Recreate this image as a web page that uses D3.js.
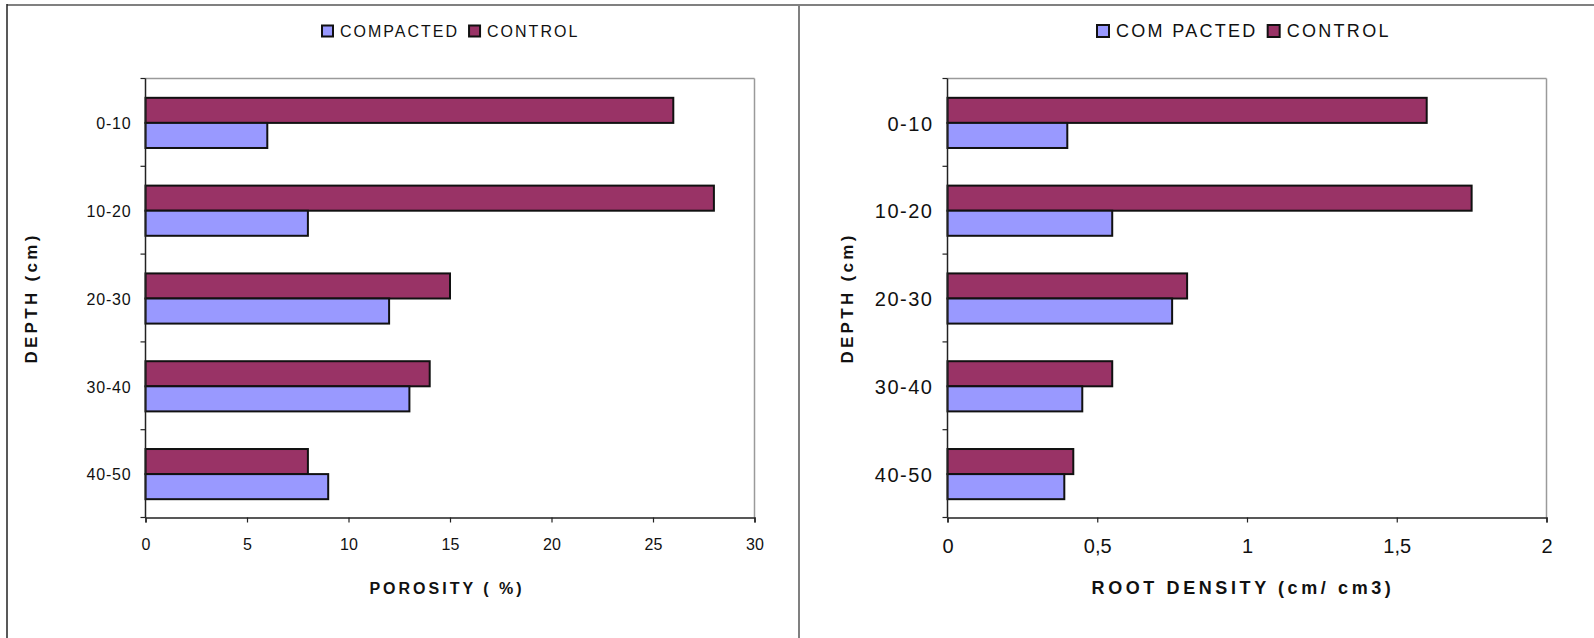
<!DOCTYPE html>
<html>
<head>
<meta charset="utf-8">
<script src="https://cdn.jsdelivr.net/npm/d3@7"></script>
<style>
  html, body { margin: 0; padding: 0; background: #fff; }
  svg { display: block; }
  text { font-family: Arial, "Liberation Sans", sans-serif; fill: #111; }
</style>
</head>
<body>
<svg id="chart" width="1594" height="638"></svg>
<script>
// Depth classes (cm), top to bottom
const depths = ["0-10", "10-20", "20-30", "30-40", "40-50"];
const seriesNames = ["COMPACTED", "CONTROL"];

// Porosity (%)
const porosityCompacted = [6, 8, 12, 13, 9];
const porosityControl   = [26, 28, 15, 14, 8];

// Root density (cm/cm3)
const rootCompacted = [0.4, 0.55, 0.75, 0.45, 0.39];
const rootControl   = [1.6, 1.75, 0.8, 0.55, 0.42];

const porosityTicks = [0, 5, 10, 15, 20, 25, 30];
const rootTicks = [0, 0.5, 1, 1.5, 2];

const colors = { COMPACTED: "#9999ff", CONTROL: "#993366" };

const svg = d3.select("#chart");

// Outer frame
svg.append("line").attr("x1", 7).attr("x2", 1594).attr("y1", 5).attr("y2", 5)
  .attr("stroke", "#808080").attr("stroke-width", 2);
svg.append("line").attr("x1", 7).attr("x2", 7).attr("y1", 4).attr("y2", 638)
  .attr("stroke", "#222").attr("stroke-width", 1.5);
svg.append("line").attr("x1", 799).attr("x2", 799).attr("y1", 5).attr("y2", 638)
  .attr("stroke", "#808080").attr("stroke-width", 2);

function panel(cfg) {
  const g = svg.append("g");
  const x = d3.scaleLinear().domain(cfg.domain).range([cfg.left, cfg.right]);
  // one band per depth class; ticks sit on the band boundaries
  const y = d3.scaleBand().domain(depths).range([cfg.top, cfg.bottom]).padding(0);
  const step = y.step();
  // the two bars of a class fill the middle of its band (gap width 150%)
  const barH = step / 3.5;
  const offset = step * 0.22;
  const sub = d3.scaleBand().domain(["CONTROL", "COMPACTED"]).range([offset, offset + 2 * barH]);

  // plot area frame (top & right in light gray)
  g.append("line").attr("x1", cfg.left).attr("x2", cfg.right).attr("y1", cfg.top).attr("y2", cfg.top)
    .attr("stroke", "#9a9a9a").attr("stroke-width", 1.5);
  g.append("line").attr("x1", cfg.right).attr("x2", cfg.right).attr("y1", cfg.top).attr("y2", cfg.bottom)
    .attr("stroke", "#9a9a9a").attr("stroke-width", 1.5);

  // bars
  const rows = depths.map((d, i) => ({ depth: d, COMPACTED: cfg.compacted[i], CONTROL: cfg.control[i] }));
  rows.forEach(r => {
    ["CONTROL", "COMPACTED"].forEach(s => {
      g.append("rect")
        .attr("x", x(0))
        .attr("y", y(r.depth) + sub(s))
        .attr("width", x(r[s]) - x(0))
        .attr("height", sub.bandwidth())
        .attr("fill", colors[s])
        .attr("stroke", "#111")
        .attr("stroke-width", 2);
    });
  });

  // y axis
  g.append("line").attr("x1", cfg.left).attr("x2", cfg.left).attr("y1", cfg.top).attr("y2", cfg.bottom)
    .attr("stroke", "#222").attr("stroke-width", 1.5);
  d3.range(depths.length + 1).forEach(i => {
    g.append("line").attr("x1", cfg.left - 5).attr("x2", cfg.left)
      .attr("y1", cfg.top + i * step).attr("y2", cfg.top + i * step)
      .attr("stroke", "#222").attr("stroke-width", 1.2);
  });
  depths.forEach(d => {
    g.append("text")
      .attr("x", cfg.left - 14)
      .attr("y", y(d) + step / 2 + 1)
      .attr("dy", "0.36em")
      .attr("text-anchor", "end")
      .style("font-size", cfg.catFont + "px")
      .style("letter-spacing", cfg.catSpacing + "px")
      .text(d);
  });

  // x axis
  const xAxis = d3.axisBottom(x).tickValues(cfg.ticks).tickSize(5)
    .tickFormat(v => String(v).replace(".", ","));
  const ax = g.append("g").attr("transform", `translate(0,${cfg.bottom})`).call(xAxis);
  ax.attr("font-size", null).attr("font-family", null);
  ax.select(".domain").attr("stroke", "#222").attr("stroke-width", 1.5);
  ax.selectAll(".tick line").attr("stroke", "#222").attr("stroke-width", 1.2);
  ax.selectAll(".tick text")
    .attr("y", 21)
    .style("font-size", cfg.tickFont + "px")
    .attr("fill", "#111");

  // axis titles
  g.append("text")
    .attr("x", cfg.xTitleX).attr("y", 588)
    .attr("dy", "0.36em")
    .attr("text-anchor", "middle")
    .style("font-size", cfg.titleFont + "px")
    .style("font-weight", "bold")
    .style("letter-spacing", cfg.titleSpacing + "px")
    .text(cfg.xTitle);
  g.append("text")
    .attr("transform", `translate(${cfg.yTitleX},298) rotate(-90)`)
    .attr("dy", "0.36em")
    .attr("text-anchor", "middle")
    .style("font-size", "17px")
    .style("font-weight", "bold")
    .style("letter-spacing", "3.3px")
    .text("DEPTH (cm)");

  // legend
  const lg = g.append("g");
  let lx = cfg.legendX;
  seriesNames.forEach(s => {
    lg.append("rect").attr("x", lx).attr("y", 31 - cfg.legendBox / 2)
      .attr("width", cfg.legendBox).attr("height", cfg.legendBox)
      .attr("fill", colors[s]).attr("stroke", "#111").attr("stroke-width", 2);
    const t = lg.append("text")
      .attr("x", lx + cfg.legendBox + 7).attr("y", 31)
      .attr("dy", "0.36em")
      .style("font-size", cfg.legendFont + "px")
      .style("letter-spacing", cfg.legendSpacing + "px")
      .text(s === "COMPACTED" ? cfg.compactedLabel : s);
    lx += cfg.legendBox + 7 + t.node().getComputedTextLength() + cfg.legendGap;
  });
}

panel({
  left: 145.5, right: 754.5, top: 78.5, bottom: 517.5,
  domain: [0, 30], ticks: porosityTicks,
  compacted: porosityCompacted, control: porosityControl,
  catFont: 16, catSpacing: 0.8, tickFont: 16, titleFont: 16, titleSpacing: 3,
  xTitle: "POROSITY ( %)", xTitleX: 447, yTitleX: 31,
  legendX: 322, legendBox: 11, legendFont: 16, legendSpacing: 2, legendGap: 10,
  compactedLabel: "COMPACTED"
});

panel({
  left: 947.5, right: 1546.5, top: 78.5, bottom: 517.5,
  domain: [0, 2], ticks: rootTicks,
  compacted: rootCompacted, control: rootControl,
  catFont: 20, catSpacing: 1.5, tickFont: 20, titleFont: 18, titleSpacing: 3.6,
  xTitle: "ROOT DENSITY (cm/ cm3)", xTitleX: 1243, yTitleX: 847,
  legendX: 1097, legendBox: 12, legendFont: 18, legendSpacing: 2.3, legendGap: 10,
  compactedLabel: "COM PACTED"
});
</script>
</body>
</html>
